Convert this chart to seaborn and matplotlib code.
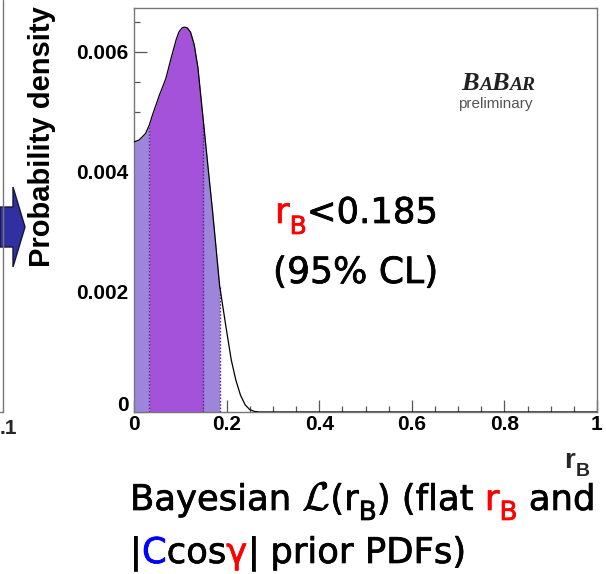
import numpy as np
import pandas as pd
import matplotlib
matplotlib.use("Agg")
import matplotlib.pyplot as plt
import matplotlib.patheffects as pe
from matplotlib.ticker import MultipleLocator, FixedLocator, FixedFormatter
from matplotlib.transforms import ScaledTranslation
from matplotlib.patches import Polygon
from matplotlib.lines import Line2D
import seaborn as sns

# Posterior density of r_B
r_b = [0.000, 0.011, 0.025, 0.033, 0.040, 0.054, 0.069, 0.080, 0.091, 0.097,
       0.104, 0.109, 0.115, 0.122, 0.130, 0.138, 0.150, 0.160, 0.170, 0.185,
       0.200, 0.210, 0.220, 0.230, 0.240, 0.250, 0.260, 0.270, 0.400, 0.600,
       0.800, 1.000]
density = [0.00450, 0.00453, 0.00464, 0.00478, 0.00495, 0.00526, 0.00556, 0.00589,
           0.00620, 0.00633, 0.00640, 0.00641, 0.00640, 0.00633, 0.00612, 0.00574,
           0.00483, 0.00407, 0.00332, 0.00210, 0.00135, 0.00087, 0.00053, 0.00028,
           0.00012, 0.00004, 0.00001, 0.0, 0.0, 0.0, 0.0, 0.0]

# Interval boundaries (shaded bands)
band_edges = [0.033, 0.150, 0.185]

x_tick_values = [0, 0.2, 0.4, 0.6, 0.8, 1.0]
x_tick_labels = ["0", "0.2", "0.4", "0.6", "0.8", "1"]
y_tick_values = [0, 0.002, 0.004, 0.006]
y_tick_labels = ["0", "0.002", "0.004", "0.006"]

W, H = 606, 574
DPI = 100

sns.set_theme(style="ticks")
plt.rcParams["font.family"] = ["Liberation Sans", "DejaVu Sans"]
plt.rcParams["mathtext.fontset"] = "cm"

fig = plt.figure(figsize=(W / DPI, H / DPI), dpi=DPI)
fig.patch.set_facecolor("white")

ax_left, ax_right, ax_top, ax_bottom = 134, 597, 8, 412
ax = fig.add_axes([ax_left / W, 1 - ax_bottom / H, (ax_right - ax_left) / W,
                   (ax_bottom - ax_top) / H])
ax.set_facecolor("white")

df = pd.DataFrame({"r_B": r_b, "density": density})
rv = df["r_B"].to_numpy()
dv = df["density"].to_numpy()

light = "#9D85DC"
dark = "#A452D9"
e0, e1, e2 = band_edges
ax.fill_between(rv, 0, dv, where=(rv <= e0), color=light, lw=0, zorder=1)
ax.fill_between(rv, 0, dv, where=(rv >= e0) & (rv <= e1), color=dark, lw=0, zorder=1)
ax.fill_between(rv, 0, dv, where=(rv >= e1) & (rv <= e2), color=light, lw=0, zorder=1)
edge_heights = [float(np.interp(e, rv, dv)) for e in band_edges]
ax.vlines(band_edges, 0, edge_heights, colors="#5B2A8E", linestyles=(0, (1.2, 1.2)),
          lw=1.0, zorder=2)

sns.lineplot(data=df, x="r_B", y="density", ax=ax, color="black", lw=0.9,
             zorder=3, estimator=None)

ax.set_xlim(0, 1)
ax.set_ylim(0, 0.00673)
ax.set_xlabel("")
ax.set_ylabel("")

ax.xaxis.set_major_locator(FixedLocator(x_tick_values))
ax.xaxis.set_major_formatter(FixedFormatter(x_tick_labels))
ax.xaxis.set_minor_locator(MultipleLocator(0.05))
ax.yaxis.set_major_locator(FixedLocator(y_tick_values))
ax.yaxis.set_major_formatter(FixedFormatter(y_tick_labels))
ax.yaxis.set_minor_locator(MultipleLocator(0.0005))

ax.tick_params(which="both", direction="in", colors="#555555", width=0.9,
               labelcolor="black", labelsize=15)
ax.tick_params(which="major", length=9)
ax.tick_params(which="minor", length=4.5)
ax.tick_params(axis="x", pad=2)
ax.tick_params(axis="y", pad=4)
for lab in ax.get_xticklabels() + ax.get_yticklabels():
    lab.set_fontweight("bold")
# zero label on the y axis sits slightly above the corner
ylabs = ax.get_yticklabels()
ylabs[0].set_transform(ylabs[0].get_transform() +
                       ScaledTranslation(0, 6 / 72, fig.dpi_scale_trans))

for s in ax.spines.values():
    s.set_color("#777777")
    s.set_linewidth(1.0)

# axis titles
fig.text(42 / W, 1 - 6 / H, "Probability density", rotation=90, ha="center",
         va="top", fontsize=21, fontweight="bold", color="black")
fig.text(564 / W, 1 - 468 / H, "r", fontsize=20, fontweight="bold", ha="left",
         va="baseline")
fig.text(576 / W, 1 - 476 / H, "B", fontsize=14, fontweight="bold", ha="left",
         va="baseline")

renderer = fig.canvas.get_renderer()


def draw_runs(x, y, parts):
    """Place text pieces one after another; x, y in pixels from the top-left."""
    for text, color, size, dy, extra in parts:
        kw = dict(fontsize=size, color=color, va="baseline", ha="left")
        kw.update(extra)
        t = fig.text(x / W, 1 - (y + dy) / H, text, **kw)
        bb = t.get_window_extent(renderer)
        x = bb.x1
    return x


def gap(size, family):
    a = fig.text(0, 0, "x x", fontsize=size, family=family)
    b = fig.text(0, 0, "xx", fontsize=size, family=family)
    w = a.get_window_extent(renderer).width - b.get_window_extent(renderer).width
    a.remove()
    b.remove()
    return w


# experiment tag
serif = dict(fontstyle="italic", fontweight="bold", family="Liberation Serif")
draw_runs(461, 90, [("B", "#222222", 19, 0, serif), ("A", "#222222", 14, 0, serif),
                    ("B", "#222222", 19, 0, serif), ("AR", "#222222", 14, 0, serif)])
fig.text(458 / W, 1 - 108 / H, "preliminary", fontsize=11, color="#555555",
         va="baseline")


def heavy(color):
    return dict(family=["DejaVu Sans"],
                path_effects=[pe.withStroke(linewidth=0.5, foreground=color)])


# annotation on the plot
big = 25.5
sub = 18
draw_runs(275, 223, [("r", "red", big, 0, heavy("red")),
                     ("B", "red", sub, 11, heavy("red")),
                     ("<0.185", "black", big, 0, heavy("black"))])
draw_runs(273, 283, [("(95% CL)", "black", 26, 0, heavy("black"))])

# caption below the plot
cap = 25.5
csub = 19
sp = gap(cap, ["DejaVu Sans"])
k = heavy("black")
rd = heavy("red")
x = draw_runs(130, 510, [("Bayesian", "black", cap, 0, k)]) + sp
x = draw_runs(x, 510, [(r"$\mathcal{L}$", "black", cap + 3, 0,
                        dict(path_effects=k["path_effects"])),
                       ("(r", "black", cap, 0, k), ("B", "black", csub, 10, k),
                       (")", "black", cap, 0, k)]) + sp
x = draw_runs(x, 510, [("(flat", "black", cap, 0, k)]) + sp
x = draw_runs(x, 510, [("r", "red", cap, 0, rd), ("B", "red", csub, 10, rd)]) + sp
draw_runs(x, 510, [("and", "black", cap, 0, k)])
x = draw_runs(130, 563, [("|", "black", cap, 0, k), ("C", "blue", cap, 0, heavy("blue")),
                         ("cos", "black", cap, 0, k), ("γ", "red", cap, 0, rd),
                         ("|", "black", cap, 0, k)]) + sp
x = draw_runs(x, 563, [("prior", "black", cap, 0, k)]) + sp
draw_runs(x, 563, [("PDFs)", "black", cap, 0, k)])

# edge of the neighbouring panel and the arrow pointing to this one
fig.add_artist(Line2D([3 / W, 3 / W], [1.0, 1 - 412 / H], transform=fig.transFigure,
                      color="#777777", lw=1.0))
fig.add_artist(Line2D([0, 3 / W], [1 - 412 / H, 1 - 412 / H], transform=fig.transFigure,
                      color="#777777", lw=1.0))
fig.text(0, 1 - 434 / H, ".1", fontsize=15, fontweight="bold", va="baseline")
arrow_px = [(0, 207), (13, 207), (13, 187), (25, 227), (13, 267), (13, 247), (0, 247)]
fig.add_artist(Polygon([(px / W, 1 - py / H) for px, py in arrow_px], closed=True,
                       transform=fig.transFigure, facecolor="#3030A0",
                       edgecolor="#14143C", lw=1.0))

fig.savefig("out.png", dpi=DPI, facecolor="white")
